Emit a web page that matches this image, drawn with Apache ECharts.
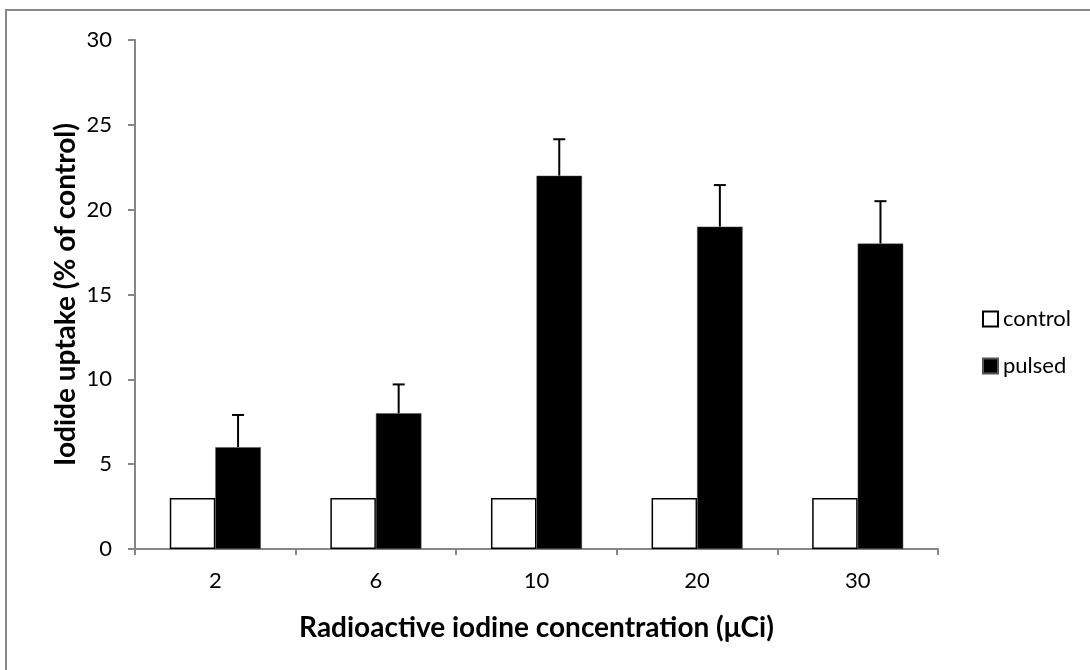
<!DOCTYPE html>
<html>
<head>
<meta charset="utf-8">
<script src="https://cdn.jsdelivr.net/npm/echarts@6/dist/echarts.min.js"></script>
<style>
  html, body { margin: 0; padding: 0; background: #fff; }
  #main { width: 1090px; height: 670px; }
</style>
</head>
<body>
<div id="main"></div>
<script>
var categories = ['2', '6', '10', '20', '30'];
var controlValues = [3, 3, 3, 3, 3];
var pulsedValues = [6, 8, 22, 19, 18];
var pulsedErrorTop = [7.9, 9.7, 24.15, 21.45, 20.5];

var FONT = 'Lato';
var GAP = 0.433;

var dom = document.getElementById('main');
var myChart = echarts.init(dom, null, { renderer: 'canvas' });

var option = {
  backgroundColor: '#fff',
  animation: false,
  textStyle: { fontFamily: FONT, color: '#000' },
  graphic: [
    {
      type: 'rect',
      shape: { x: 6, y: 10, width: 1200, height: 800 },
      style: { fill: 'none', stroke: '#888', lineWidth: 2 },
      silent: true
    }
  ],
  legend: {
    orient: 'vertical',
    left: 977,
    top: 303,
    itemWidth: 15,
    itemHeight: 15,
    itemGap: 25,
    icon: 'rect',
    textStyle: { fontFamily: FONT, fontSize: 22, lineHeight: 22, color: '#000' },
    data: ['control', 'pulsed']
  },
  grid: { left: 135, right: 152, top: 40, bottom: 121, containLabel: false },
  xAxis: {
    type: 'category',
    data: categories,
    name: 'Radioactive iodine concentration (μCi)',
    nameLocation: 'middle',
    nameGap: 65,
    nameMoveOverlap: false,
    nameTextStyle: { fontFamily: FONT, fontSize: 28, fontWeight: 'bold', color: '#000' },
    axisLine: { lineStyle: { color: '#868686', width: 2 } },
    axisTick: { show: true, length: 6, lineStyle: { color: '#868686', width: 2 } },
    axisLabel: { fontFamily: FONT, fontSize: 22, color: '#000', margin: 21 }
  },
  yAxis: {
    type: 'value',
    min: 0,
    max: 30,
    interval: 5,
    name: 'Iodide uptake (% of control)',
    nameLocation: 'middle',
    nameGap: 55,
    nameMoveOverlap: false,
    nameTextStyle: { fontFamily: FONT, fontSize: 28, fontWeight: 'bold', color: '#000' },
    axisLine: { show: true, lineStyle: { color: '#868686', width: 2 } },
    axisTick: { show: true, length: 7, lineStyle: { color: '#868686', width: 2 } },
    axisLabel: { fontFamily: FONT, fontSize: 22, color: '#000', margin: 23 },
    splitLine: { show: false }
  },
  series: [
    {
      name: 'control',
      type: 'bar',
      data: controlValues,
      barGap: '0%',
      barCategoryGap: (GAP * 100) + '%',
      itemStyle: { color: '#fff', borderColor: '#000', borderWidth: 1.5 }
    },
    {
      name: 'pulsed',
      type: 'bar',
      data: pulsedValues,
      barGap: '0%',
      barCategoryGap: (GAP * 100) + '%',
      itemStyle: { color: '#000', borderColor: '#555', borderWidth: 0.5 }
    },
    {
      name: 'error',
      type: 'custom',
      z: 1,
      data: pulsedValues.map(function (v, i) { return [i, v, pulsedErrorTop[i]]; }),
      encode: { x: 0, y: 1 },
      renderItem: function (params, api) {
        var band = api.size([1, 0])[0];
        var off = band * (1 - GAP) / 4;
        var base = api.coord([api.value(0), api.value(1)]);
        var top = api.coord([api.value(0), api.value(2)]);
        var x = base[0] + off;
        var style = { stroke: '#000', lineWidth: 2, fill: null };
        return {
          type: 'group',
          children: [
            { type: 'line', shape: { x1: x, y1: base[1], x2: x, y2: top[1] }, style: style },
            { type: 'line', shape: { x1: x - 6, y1: top[1], x2: x + 6, y2: top[1] }, style: style }
          ]
        };
      }
    }
  ]
};

myChart.setOption(option);
</script>
</body>
</html>
